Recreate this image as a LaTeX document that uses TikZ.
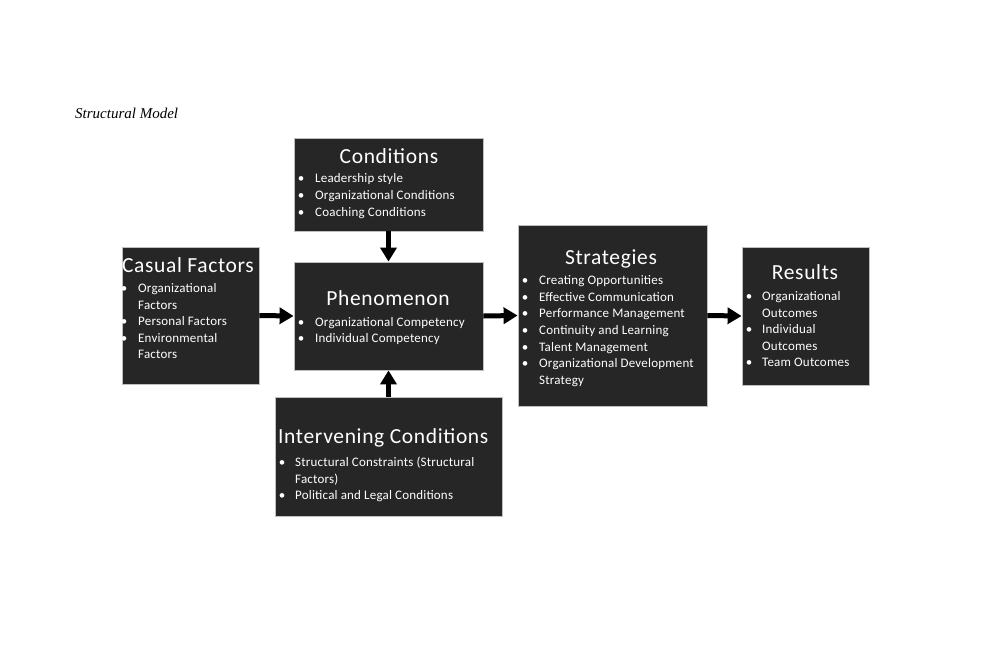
\documentclass[tikz,border=0pt]{standalone}
\usepackage{fontspec}
\setmainfont{Carlito}
\newfontfamily\titlefont{Liberation Serif}
\newfontfamily\hfont[LetterSpace=3]{Carlito}
\newfontfamily\ifont[LetterSpace=1.5]{Carlito}
\usetikzlibrary{arrows.meta}
\definecolor{boxfill}{HTML}{262626}
\definecolor{boxline}{HTML}{BFBFBF}
\tikzset{
  box/.style={draw=boxline, fill=boxfill, line width=0.8pt, inner sep=0pt, rectangle},
  head/.style={anchor=base, text=white, font=\hfont\fontsize{21.5}{25}\selectfont, inner sep=0pt},
  itm/.style={anchor=base west, text=white, font=\ifont\fontsize{13}{15}\selectfont, inner sep=0pt},
  bul/.style={anchor=base, text=white, font=\fontsize{13}{15}\selectfont, inner sep=0pt},
  conn/.style={line width=5pt, -{Triangle[length=14pt,width=16pt]}},
}
\newcommand{\bl}[4]{% bullet x, text x, baseline y, text
  \node[bul] at (#1,#3) {•};
  \node[itm] at (#2,#3) {#4};}
\newcommand{\tl}[3]{\node[itm] at (#1,#2) {#3};}
\begin{document}
\begin{tikzpicture}[x=1pt,y=-1pt]
\useasboundingbox (0,0) rectangle (988,664);
\node[anchor=base west, inner sep=0pt, font=\titlefont\itshape\fontsize{15}{18}\selectfont] (title) at (75,118) {Structural Model};
% boxes
\node[box, minimum width=137pt, minimum height=137pt] (casual) at (190.5,315.5) {};
\node[box, minimum width=189pt, minimum height=93pt] (cond) at (388.5,184.5) {};
\node[box, minimum width=189pt, minimum height=108pt] (phen) at (388.5,316) {};
\node[box, minimum width=227pt, minimum height=119pt] (inter) at (388.5,456.5) {};
\node[box, minimum width=189pt, minimum height=181pt] (strat) at (612.5,315.5) {};
\node[box, minimum width=127pt, minimum height=138pt] (res) at (805.5,316) {};
% Casual Factors
\node[head] (h1) at (188,272) {Casual Factors};
\bl{124}{138}{292}{Organizational}
\tl{138}{309}{Factors}
\bl{124}{138}{325}{Personal Factors}
\bl{124}{138}{342}{Environmental}
\tl{138}{358}{Factors}
% Conditions
\node[head] (h2) at (389,163) {Conditions};
\bl{301}{315}{182}{Leadership style}
\bl{301}{315}{199}{Organizational Conditions}
\bl{301}{315}{216}{Coaching Conditions}
% Phenomenon
\node[head] (h3) at (388,305) {Phenomenon};
\bl{301}{315}{326}{Organizational Competency}
\bl{301}{315}{342}{Individual Competency}
% Intervening
\node[head, anchor=base west] (h4) at (278,443) {Intervening Conditions};
\bl{282}{295}{466}{Structural Constraints (Structural}
\tl{295}{483}{Factors)}
\bl{282}{295}{499}{Political and Legal Conditions}
% Strategies
\node[head] (h5) at (611,264) {Strategies};
\bl{525}{539}{284}{Creating Opportunities}
\bl{525}{539}{301}{Effective Communication}
\bl{525}{539}{317}{Performance Management}
\bl{525}{539}{334}{Continuity and Learning}
\bl{525}{539}{351}{Talent Management}
\bl{525}{539}{367}{Organizational Development}
\tl{539}{384}{Strategy}
% Results
\node[head] (h6) at (805,279) {Results};
\bl{749}{762}{300}{Organizational}
\tl{762}{317}{Outcomes}
\bl{749}{762}{333}{Individual}
\tl{762}{350}{Outcomes}
\bl{749}{762}{366}{Team Outcomes}
% connectors
\draw[conn] (casual.east) -- (phen.west);
\draw[conn] (phen.east) -- (strat.west);
\draw[conn] (strat.east) -- (res.west);
\draw[conn] (cond.south) -- (phen.north);
\draw[conn] (inter.north) -- (phen.south);
\end{tikzpicture}
\end{document}
